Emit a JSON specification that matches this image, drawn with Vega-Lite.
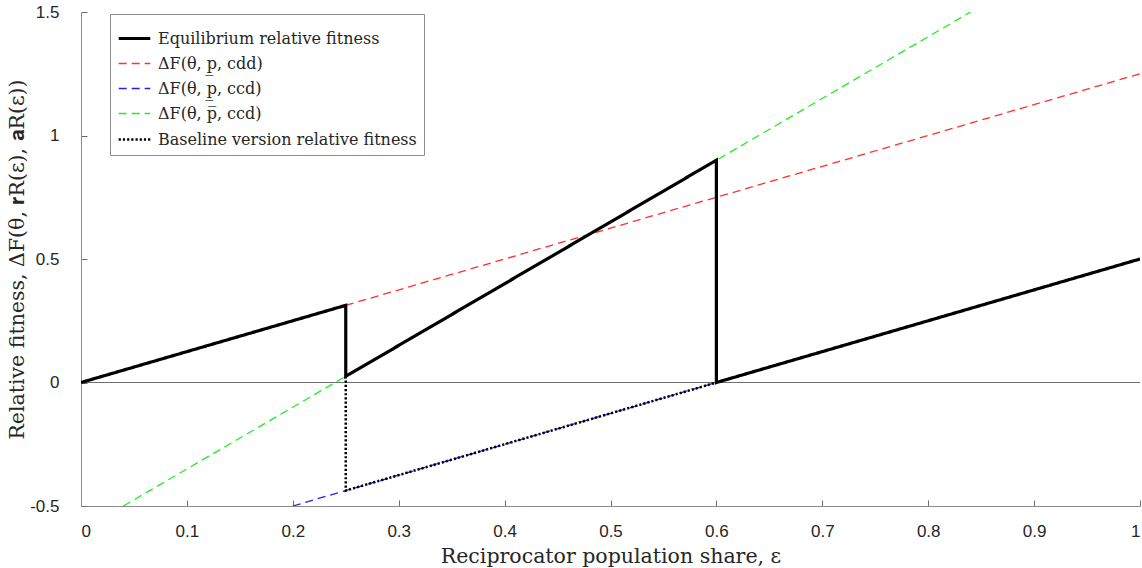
{
  "$schema": "https://vega.github.io/schema/vega-lite/v6.json",
  "autosize": {"type": "none"},
  "width": 1059,
  "height": 494,
  "padding": {"left": 81, "top": 12, "right": 2, "bottom": 62},
  "background": "white",
  "config": {
    "view": {"stroke": null},
    "axis": {
      "domainColor": "#8c8c8c",
      "tickColor": "#6e6e6e",
      "grid": false,
      "labelFont": "Liberation Sans",
      "labelFontSize": 17,
      "labelColor": "#262626",
      "titleFont": "DejaVu Serif",
      "titleFontSize": 20.5,
      "titleFontWeight": "normal",
      "titleColor": "#262626"
    },
    "legend": {
      "title": null,
      "orient": "none",
      "legendX": 29,
      "legendY": 2,
      "symbolType": "stroke",
      "symbolSize": 1000,
      "labelFont": "DejaVu Serif",
      "labelFontSize": 16,
      "labelColor": "#262626",
      "labelOffset": 6,
      "rowPadding": 0,
      "padding": 7,
      "strokeColor": "#8c8c8c",
      "fillColor": "white",
      "labelLimit": 400
    }
  },
  "data": {
    "values": [
      {"series": "Equilibrium relative fitness", "x": 0, "y": 0, "o": 1},
      {"series": "Equilibrium relative fitness", "x": 0.25, "y": 0.3125, "o": 2},
      {"series": "Equilibrium relative fitness", "x": 0.25, "y": 0.025, "o": 3},
      {"series": "Equilibrium relative fitness", "x": 0.6, "y": 0.9, "o": 4},
      {"series": "Equilibrium relative fitness", "x": 0.6, "y": 0, "o": 5},
      {"series": "Equilibrium relative fitness", "x": 1, "y": 0.5, "o": 6},
      {"series": "ΔF(θ, p̲, cdd)", "x": 0.25, "y": 0.3125, "o": 1},
      {"series": "ΔF(θ, p̲, cdd)", "x": 1, "y": 1.25, "o": 2},
      {"series": "ΔF(θ, p̲, ccd)", "x": 0.2, "y": -0.5, "o": 1},
      {"series": "ΔF(θ, p̲, ccd)", "x": 0.6, "y": 0, "o": 2},
      {"series": "ΔF(θ, p̅, ccd)", "x": 0.04, "y": -0.5, "o": 1},
      {"series": "ΔF(θ, p̅, ccd)", "x": 0.84, "y": 1.5, "o": 2},
      {"series": "Baseline version relative fitness", "x": 0.25, "y": 0.025, "o": 1},
      {"series": "Baseline version relative fitness", "x": 0.25, "y": -0.4375, "o": 2},
      {"series": "Baseline version relative fitness", "x": 0.6, "y": 0, "o": 3}
    ]
  },
  "encoding": {
    "x": {
      "field": "x", "type": "quantitative",
      "scale": {"domain": [0, 1], "nice": false, "zero": false},
      "axis": {
        "values": [0, 0.1, 0.2, 0.3, 0.4, 0.5, 0.6, 0.7, 0.8, 0.9, 1],
        "format": ".1~f",
        "tickSize": -6,
        "labelPadding": 23,
        "title": "Reciprocator population share, ε",
        "titlePadding": 7
      }
    },
    "y": {
      "field": "y", "type": "quantitative",
      "scale": {"domain": [-0.5, 1.5], "nice": false, "zero": false},
      "axis": {
        "values": [-0.5, 0, 0.5, 1, 1.5],
        "labelExpr": "replace(format(datum.value, '.1~f'), '−', '-')",
        "tickSize": -6,
        "labelPadding": 28,
        "title": "Relative fitness, ΔF(θ, 𝐫R(ε), 𝐚R(ε))",
        "titlePadding": 2
      }
    },
    "order": {"field": "o", "type": "quantitative"},
    "color": {
      "field": "series", "type": "nominal", "title": null,
      "scale": {
        "domain": ["Equilibrium relative fitness", "ΔF(θ, p̲, cdd)", "ΔF(θ, p̲, ccd)", "ΔF(θ, p̅, ccd)", "Baseline version relative fitness"],
        "range": ["#000000", "#ff3030", "#2020ff", "#22ee22", "#000000"]
      }
    },
    "strokeDash": {
      "field": "series", "type": "nominal", "title": null,
      "scale": {
        "domain": ["Equilibrium relative fitness", "ΔF(θ, p̲, cdd)", "ΔF(θ, p̲, ccd)", "ΔF(θ, p̅, ccd)", "Baseline version relative fitness"],
        "range": [[1, 0], [8, 5], [8, 5], [8, 5], [2.2, 2]]
      }
    },
    "strokeWidth": {
      "field": "series", "type": "nominal", "title": null,
      "scale": {
        "type": "ordinal",
        "domain": ["Equilibrium relative fitness", "ΔF(θ, p̲, cdd)", "ΔF(θ, p̲, ccd)", "ΔF(θ, p̅, ccd)", "Baseline version relative fitness"],
        "range": [3.2, 1.3, 1.3, 1.3, 2.5]
      }
    }
  },
  "layer": [
    {
      "mark": {"type": "rule", "color": "#6e6e6e", "strokeWidth": 1},
      "encoding": {"y": {"datum": 0}, "x": null, "order": null, "color": null, "strokeDash": null, "strokeWidth": null}
    },
    {"transform": [{"filter": "datum.series === 'ΔF(θ, p̅, ccd)'"}], "mark": {"type": "line", "clip": true}},
    {"transform": [{"filter": "datum.series === 'ΔF(θ, p̲, cdd)'"}], "mark": {"type": "line", "clip": true}},
    {"transform": [{"filter": "datum.series === 'ΔF(θ, p̲, ccd)'"}], "mark": {"type": "line", "clip": true}},
    {"transform": [{"filter": "datum.series === 'Equilibrium relative fitness'"}], "mark": {"type": "line", "clip": true}},
    {"transform": [{"filter": "datum.series === 'Baseline version relative fitness'"}], "mark": {"type": "line", "clip": true}}
  ]
}
